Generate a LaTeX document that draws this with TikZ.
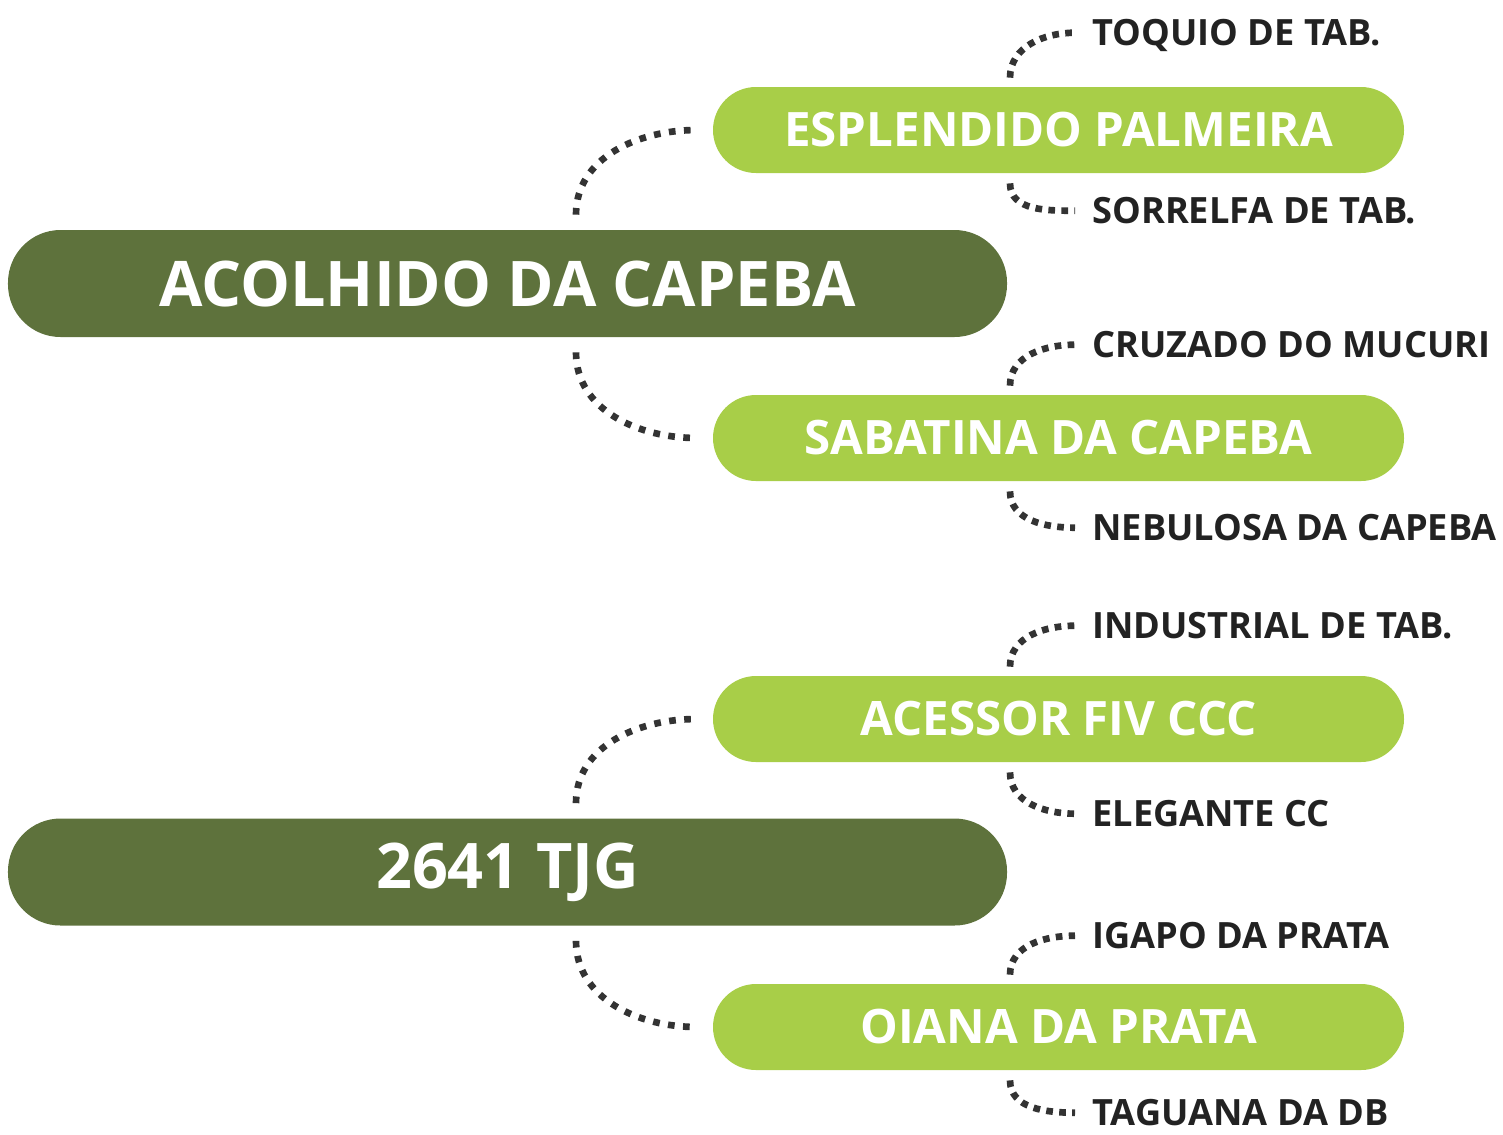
\documentclass[tikz,border=0pt]{standalone}
\usepackage{fontspec}
\setmainfont{Open Sans}
\usetikzlibrary{positioning}
\definecolor{Forest}{HTML}{5E723C}
\definecolor{Lime}{HTML}{A8CE48}
\definecolor{Ink}{HTML}{222222}
\definecolor{Dots}{HTML}{333333}

\begin{document}
\begin{tikzpicture}[
  root/.style={rounded corners=1.05cm,fill=Forest,text=white,minimum width=19.98cm,minimum height=2.14cm,font=\bfseries\fontsize{35.8}{40}\selectfont},
  branch/.style={rounded corners=0.86cm,fill=Lime,text=white,minimum width=13.82cm,minimum height=1.72cm,font=\bfseries\fontsize{27}{32}\selectfont},
  leaf/.style={anchor=base west,inner sep=0pt,text=Ink,font=\bfseries\fontsize{20.6}{24}\selectfont},
  limb/.style={draw=Dots,line width=3.8pt,dash pattern=on 3.8pt off 4.8pt},
  twig/.style={draw=Dots,line width=3.8pt,dash pattern=on 3.8pt off 3.6pt}
]
\useasboundingbox (0,0) rectangle (30.06,-22.68);
\node[root] (r1) at (10.15,-5.67) {ACOLHIDO DA CAPEBA};
\node[root] (r2) at (10.15,-17.44) {2641 TJG};
\node[branch] (g1) at (21.17,-2.6) {ESPLENDIDO PALMEIRA};
\node[branch] (g2) at (21.17,-8.76) {SABATINA DA CAPEBA};
\node[branch] (g3) at (21.17,-14.38) {ACESSOR FIV CCC};
\node[branch] (g4) at (21.17,-20.54) {OIANA DA PRATA};
\node[leaf] (t1) at (21.84,-0.90) {TOQUIO DE TAB.};
\node[leaf] (t2) at (21.84,-4.46) {SORRELFA DE TAB.};
\node[leaf] (t3) at (21.84,-7.14) {CRUZADO DO MUCURI};
\node[leaf] (t4) at (21.84,-10.80) {NEBULOSA DA CAPEBA};
\node[leaf] (t5) at (21.84,-12.76) {INDUSTRIAL DE TAB.};
\node[leaf] (t6) at (21.84,-16.52) {ELEGANTE CC};
\node[leaf] (t7) at (21.84,-18.96) {IGAPO DA PRATA};
\node[leaf] (t8) at (21.84,-22.50) {TAGUANA DA DB};
\draw[limb] ([xshift=1.37cm,yshift=0.3cm]r1.north) to[out=90,in=180] ([xshift=-0.32cm]g1.west);
\draw[limb] ([xshift=1.37cm,yshift=-0.3cm]r1.south) to[out=-90,in=180] ([xshift=-0.32cm]g2.west);
\draw[limb] ([xshift=1.37cm,yshift=0.3cm]r2.north) to[out=90,in=180] ([xshift=-0.32cm]g3.west);
\draw[limb] ([xshift=1.37cm,yshift=-0.3cm]r2.south) to[out=-90,in=180] ([xshift=-0.32cm]g4.west);
\draw[twig] ([xshift=-0.97cm,yshift=0.18cm]g1.north) to[out=90,in=180] ([xshift=-0.34cm,yshift=7pt]t1.base west);
\draw[twig] ([xshift=-0.97cm,yshift=-0.2cm]g1.south) to[out=-90,in=180] ([xshift=-0.34cm,yshift=7pt]t2.base west);
\draw[twig] ([xshift=-0.97cm,yshift=0.18cm]g2.north) to[out=90,in=180] ([xshift=-0.34cm,yshift=7pt]t3.base west);
\draw[twig] ([xshift=-0.97cm,yshift=-0.2cm]g2.south) to[out=-90,in=180] ([xshift=-0.34cm,yshift=7pt]t4.base west);
\draw[twig] ([xshift=-0.97cm,yshift=0.18cm]g3.north) to[out=90,in=180] ([xshift=-0.34cm,yshift=7pt]t5.base west);
\draw[twig] ([xshift=-0.97cm,yshift=-0.2cm]g3.south) to[out=-90,in=180] ([xshift=-0.34cm,yshift=7pt]t6.base west);
\draw[twig] ([xshift=-0.97cm,yshift=0.18cm]g4.north) to[out=90,in=180] ([xshift=-0.34cm,yshift=7pt]t7.base west);
\draw[twig] ([xshift=-0.97cm,yshift=-0.2cm]g4.south) to[out=-90,in=180] ([xshift=-0.34cm,yshift=7pt]t8.base west);
\end{tikzpicture}
\end{document}
